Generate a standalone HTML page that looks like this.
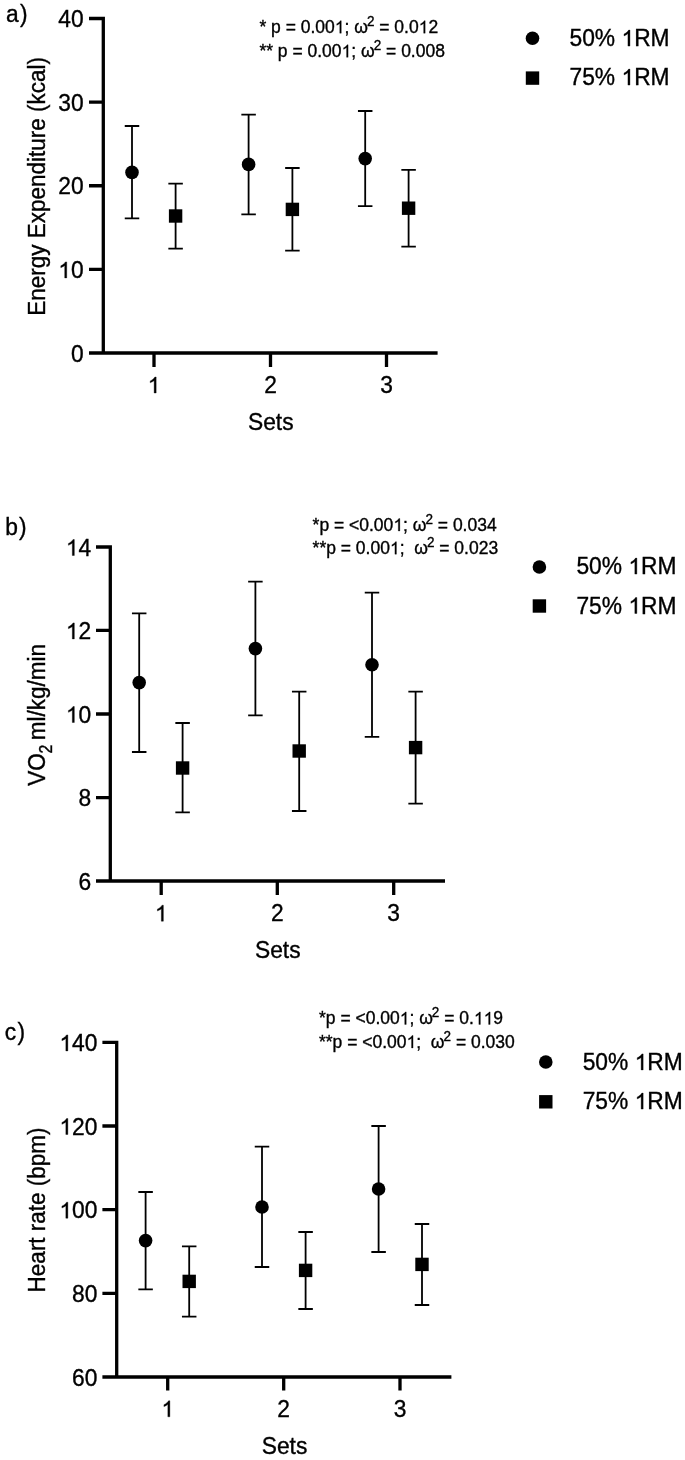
<!DOCTYPE html>
<html><head><meta charset="utf-8"><title>Figure</title>
<style>
html,body{margin:0;padding:0;background:#fff;}
body{width:685px;height:1460px;overflow:hidden;}
svg{display:block;font-family:"Liberation Sans", sans-serif;will-change:transform;}
text{fill:#000;stroke:#000;stroke-width:0.35px;}
.one{fill-opacity:0;stroke-opacity:0;}
</style></head>
<body>
<svg width="685" height="1460" viewBox="0 0 685 1460">
<rect width="685" height="1460" fill="#fff"/>
<g>
<path d="M103.3 16.85V353M89 18.5H103.3M89 102.1H103.3M89 185.75H103.3M89 269.4H103.3M89 353H103.3M89 353H437.6M154 353V367M270.5 353V367M386.5 353V367" stroke="#000" stroke-width="3.3" fill="none"/>
<text transform="translate(83.6,27) scale(1,1.02)" text-anchor="end" font-size="22.8">40</text>
<text transform="translate(83.6,110.6) scale(1,1.02)" text-anchor="end" font-size="22.8">30</text>
<text transform="translate(83.6,194.25) scale(1,1.02)" text-anchor="end" font-size="22.8">20</text>
<text transform="translate(83.6,277.9) scale(1,1.02)" text-anchor="end" font-size="22.8"><tspan class="one" id="o0">1</tspan>0</text>
<text transform="translate(83.6,361.5) scale(1,1.02)" text-anchor="end" font-size="22.8">0</text>
<text transform="translate(154,393) scale(1,1.02)" text-anchor="middle" font-size="22.8"><tspan class="one" id="o1">1</tspan></text>
<text transform="translate(270.5,393) scale(1,1.02)" text-anchor="middle" font-size="22.8">2</text>
<text transform="translate(386.5,393) scale(1,1.02)" text-anchor="middle" font-size="22.8">3</text>
<text transform="translate(270.8,429.8) scale(1,1.02)" text-anchor="middle" font-size="22.8">Sets</text>
<text transform="translate(6,22.3) scale(1,1.02)" font-size="22.8">a<tspan dx="1.2">)</tspan></text>
<text transform="translate(44.6,186.3) rotate(-90) scale(1,1.1)" text-anchor="middle" font-size="22.5">Energy Expenditure (kcal)</text>
<text transform="translate(259.4,33.2) scale(1,1.04)" font-size="17.5" xml:space="preserve">* p = 0.00<tspan class="one" id="o2">1</tspan>; ω<tspan font-size="13.5" dx="-1.0" dy="-7.0">2</tspan><tspan dy="7.0"> = 0.0<tspan class="one" id="o3">1</tspan>2</tspan></text>
<text transform="translate(259.4,57.3) scale(1,1.04)" font-size="17.5" xml:space="preserve">** p = 0.00<tspan class="one" id="o4">1</tspan>; ω<tspan font-size="13.5" dx="-1.0" dy="-7.0">2</tspan><tspan dy="7.0"> = 0.008</tspan></text>
<circle cx="532.5" cy="38.3" r="6.8"/>
<rect x="525.8" y="71.4" width="13.4" height="13.4"/>
<text transform="translate(569.5,46.1) scale(1,1.02)" font-size="22.8">50% <tspan class="one" id="o5">1</tspan>RM</text>
<text transform="translate(569.5,85.1) scale(1,1.02)" font-size="22.8">75% <tspan class="one" id="o6">1</tspan>RM</text>
<path d="M132 126V218.4M124.75 126H139.25M124.75 218.4H139.25M175.6 183.6V248.6M168.35 183.6H182.85M168.35 248.6H182.85M248.6 114.6V214.4M241.35 114.6H255.85M241.35 214.4H255.85M292.4 168V250.6M285.15 168H299.65M285.15 250.6H299.65M365.2 111V206.2M357.95 111H372.45M357.95 206.2H372.45M408.6 169.8V246.6M401.35 169.8H415.85M401.35 246.6H415.85" stroke="#000" stroke-width="1.8" fill="none"/>
<circle cx="132" cy="172.4" r="6.8"/>
<rect x="168.9" y="209.3" width="13.4" height="13.4"/>
<circle cx="248.6" cy="164.4" r="6.8"/>
<rect x="285.7" y="202.7" width="13.4" height="13.4"/>
<circle cx="365.2" cy="158.6" r="6.8"/>
<rect x="401.9" y="201.5" width="13.4" height="13.4"/>
</g>
<g>
<path d="M110.3 545.35V881M96 547H110.3M96 630.4H110.3M96 714H110.3M96 797.6H110.3M96 881H110.3M96 881H445M161.2 881V895M277.3 881V895M393.7 881V895" stroke="#000" stroke-width="3.3" fill="none"/>
<text transform="translate(91.2,555.5) scale(1,1.02)" text-anchor="end" font-size="22.8"><tspan class="one" id="o7">1</tspan>4</text>
<text transform="translate(91.2,638.9) scale(1,1.02)" text-anchor="end" font-size="22.8"><tspan class="one" id="o8">1</tspan>2</text>
<text transform="translate(91.2,722.5) scale(1,1.02)" text-anchor="end" font-size="22.8"><tspan class="one" id="o9">1</tspan>0</text>
<text transform="translate(91.2,806.1) scale(1,1.02)" text-anchor="end" font-size="22.8">8</text>
<text transform="translate(91.2,889.5) scale(1,1.02)" text-anchor="end" font-size="22.8">6</text>
<text transform="translate(161.2,921.2) scale(1,1.02)" text-anchor="middle" font-size="22.8"><tspan class="one" id="o10">1</tspan></text>
<text transform="translate(277.3,921.2) scale(1,1.02)" text-anchor="middle" font-size="22.8">2</text>
<text transform="translate(393.7,921.2) scale(1,1.02)" text-anchor="middle" font-size="22.8">3</text>
<text transform="translate(277.8,958.1) scale(1,1.02)" text-anchor="middle" font-size="22.8">Sets</text>
<text transform="translate(5.2,534.8) scale(1,1.02)" font-size="22.8">b<tspan dx="1.2">)</tspan></text>
<text transform="translate(44.6,714.9) rotate(-90) scale(1,1.1)" text-anchor="middle" font-size="22.5">VO<tspan font-size="16" dx="-0.3" dy="6.3">2</tspan><tspan dx="-1.8" dy="-6.3"> ml/kg/min</tspan></text>
<text transform="translate(312.6,531) scale(1,1.04)" font-size="17.5" xml:space="preserve">*p = <0.00<tspan class="one" id="o11">1</tspan>; ω<tspan font-size="13.5" dx="-1.0" dy="-7.0">2</tspan><tspan dy="7.0"> = 0.034</tspan></text>
<text transform="translate(312.6,554.2) scale(1,1.04)" font-size="17.5" xml:space="preserve">**p = 0.00<tspan class="one" id="o12">1</tspan>;  ω<tspan font-size="13.5" dx="-1.0" dy="-7.0">2</tspan><tspan dy="7.0"> = 0.023</tspan></text>
<circle cx="539.4" cy="567" r="6.8"/>
<rect x="532.7" y="599.3" width="13.4" height="13.4"/>
<text transform="translate(576.4,574.1) scale(1,1.02)" font-size="22.8">50% <tspan class="one" id="o13">1</tspan>RM</text>
<text transform="translate(576.4,613.5) scale(1,1.02)" font-size="22.8">75% <tspan class="one" id="o14">1</tspan>RM</text>
<path d="M139.2 613.4V752M131.95 613.4H146.45M131.95 752H146.45M182.6 723V812.4M175.35 723H189.85M175.35 812.4H189.85M255.4 581.6V715.4M248.15 581.6H262.65M248.15 715.4H262.65M299.2 691.6V811M291.95 691.6H306.45M291.95 811H306.45M372 592.6V736.8M364.75 592.6H379.25M364.75 736.8H379.25M415.6 691.6V803.6M408.35 691.6H422.85M408.35 803.6H422.85" stroke="#000" stroke-width="1.8" fill="none"/>
<circle cx="139.2" cy="682.6" r="6.8"/>
<rect x="175.9" y="761.3" width="13.4" height="13.4"/>
<circle cx="255.4" cy="648.6" r="6.8"/>
<rect x="292.5" y="744.3" width="13.4" height="13.4"/>
<circle cx="372" cy="664.8" r="6.8"/>
<rect x="408.9" y="740.9" width="13.4" height="13.4"/>
</g>
<g>
<path d="M116.7 1040.75V1377M102.4 1042.4H116.7M102.4 1126H116.7M102.4 1209.7H116.7M102.4 1293.3H116.7M102.4 1377H116.7M102.4 1377H451.4M167.7 1377V1390.4M283.7 1377V1390.4M400 1377V1390.4" stroke="#000" stroke-width="3.3" fill="none"/>
<text transform="translate(97.4,1050.9) scale(1,1.02)" text-anchor="end" font-size="22.8"><tspan class="one" id="o15">1</tspan>40</text>
<text transform="translate(97.4,1134.5) scale(1,1.02)" text-anchor="end" font-size="22.8"><tspan class="one" id="o16">1</tspan>20</text>
<text transform="translate(97.4,1218.2) scale(1,1.02)" text-anchor="end" font-size="22.8"><tspan class="one" id="o17">1</tspan>00</text>
<text transform="translate(97.4,1301.8) scale(1,1.02)" text-anchor="end" font-size="22.8">80</text>
<text transform="translate(97.4,1385.5) scale(1,1.02)" text-anchor="end" font-size="22.8">60</text>
<text transform="translate(167.7,1416.8) scale(1,1.02)" text-anchor="middle" font-size="22.8"><tspan class="one" id="o18">1</tspan></text>
<text transform="translate(283.7,1416.8) scale(1,1.02)" text-anchor="middle" font-size="22.8">2</text>
<text transform="translate(400,1416.8) scale(1,1.02)" text-anchor="middle" font-size="22.8">3</text>
<text transform="translate(284.5,1453.7) scale(1,1.02)" text-anchor="middle" font-size="22.8">Sets</text>
<text transform="translate(4.8,1040.1) scale(1,1.02)" font-size="22.8">c<tspan dx="1.2">)</tspan></text>
<text transform="translate(44.9,1209.9) rotate(-90) scale(1,1.1)" text-anchor="middle" font-size="22.5">Heart rate (bpm)</text>
<text transform="translate(319,1024.4) scale(1,1.04)" font-size="17.5" xml:space="preserve">*p = <0.00<tspan class="one" id="o19">1</tspan>; ω<tspan font-size="13.5" dx="-1.0" dy="-7.0">2</tspan><tspan dy="7.0"> = 0.<tspan class="one" id="o20">1</tspan><tspan class="one" id="o21">1</tspan>9</tspan></text>
<text transform="translate(319,1048) scale(1,1.04)" font-size="17.5" xml:space="preserve">**p = <0.00<tspan class="one" id="o22">1</tspan>;  ω<tspan font-size="13.5" dx="-1.0" dy="-7.0">2</tspan><tspan dy="7.0"> = 0.030</tspan></text>
<circle cx="545.8" cy="1062" r="6.8"/>
<rect x="539.1" y="1095.1" width="13.4" height="13.4"/>
<text transform="translate(582.7,1069.9) scale(1,1.02)" font-size="22.8">50% <tspan class="one" id="o23">1</tspan>RM</text>
<text transform="translate(582.7,1109.1) scale(1,1.02)" font-size="22.8">75% <tspan class="one" id="o24">1</tspan>RM</text>
<path d="M145.6 1192V1289.4M138.35 1192H152.85M138.35 1289.4H152.85M189.2 1246.4V1316.6M181.95 1246.4H196.45M181.95 1316.6H196.45M262 1146.6V1267M254.75 1146.6H269.25M254.75 1267H269.25M305.6 1232V1309M298.35 1232H312.85M298.35 1309H312.85M378.6 1126V1252M371.35 1126H385.85M371.35 1252H385.85M422 1224V1305M414.75 1224H429.25M414.75 1305H429.25" stroke="#000" stroke-width="1.8" fill="none"/>
<circle cx="145.6" cy="1240.6" r="6.8"/>
<rect x="182.5" y="1274.7" width="13.4" height="13.4"/>
<circle cx="262" cy="1207" r="6.8"/>
<rect x="298.9" y="1263.7" width="13.4" height="13.4"/>
<circle cx="378.6" cy="1189" r="6.8"/>
<rect x="415.3" y="1257.7" width="13.4" height="13.4"/>
</g>
<g fill="#000" stroke="#000" stroke-width="0.0154">
<path transform="translate(83.6,277.9) scale(1,1.02) translate(-25.37,0.00) scale(22.8)" d="M0.3726 0.0000L0.2847 0.0000L0.2847 -0.5382Q0.2529 -0.5091 0.2014 -0.4800Q0.1499 -0.4509 0.1128 -0.4378L0.1128 -0.5194Q0.1807 -0.5499 0.2314 -0.5933Q0.2822 -0.6367 0.3154 -0.6878L0.3726 -0.6878Z"/>
<path transform="translate(154,393) scale(1,1.02) translate(-6.34,0.00) scale(22.8)" d="M0.3726 0.0000L0.2847 0.0000L0.2847 -0.5382Q0.2529 -0.5091 0.2014 -0.4800Q0.1499 -0.4509 0.1128 -0.4378L0.1128 -0.5194Q0.1807 -0.5499 0.2314 -0.5933Q0.2822 -0.6367 0.3154 -0.6878L0.3726 -0.6878Z"/>
<path transform="translate(259.4,33.2) scale(1,1.04) translate(75.37,0.00) scale(17.5)" d="M0.3726 0.0000L0.2847 0.0000L0.2847 -0.5382Q0.2529 -0.5091 0.2014 -0.4800Q0.1499 -0.4509 0.1128 -0.4378L0.1128 -0.5194Q0.1807 -0.5499 0.2314 -0.5933Q0.2822 -0.6367 0.3154 -0.6878L0.3726 -0.6878Z"/>
<path transform="translate(259.4,33.2) scale(1,1.04) translate(159.26,0.00) scale(17.5)" d="M0.3726 0.0000L0.2847 0.0000L0.2847 -0.5382Q0.2529 -0.5091 0.2014 -0.4800Q0.1499 -0.4509 0.1128 -0.4378L0.1128 -0.5194Q0.1807 -0.5499 0.2314 -0.5933Q0.2822 -0.6367 0.3154 -0.6878L0.3726 -0.6878Z"/>
<path transform="translate(259.4,57.3) scale(1,1.04) translate(82.18,0.00) scale(17.5)" d="M0.3726 0.0000L0.2847 0.0000L0.2847 -0.5382Q0.2529 -0.5091 0.2014 -0.4800Q0.1499 -0.4509 0.1128 -0.4378L0.1128 -0.5194Q0.1807 -0.5499 0.2314 -0.5933Q0.2822 -0.6367 0.3154 -0.6878L0.3726 -0.6878Z"/>
<path transform="translate(569.5,46.1) scale(1,1.02) translate(51.95,0.00) scale(22.8)" d="M0.3726 0.0000L0.2847 0.0000L0.2847 -0.5382Q0.2529 -0.5091 0.2014 -0.4800Q0.1499 -0.4509 0.1128 -0.4378L0.1128 -0.5194Q0.1807 -0.5499 0.2314 -0.5933Q0.2822 -0.6367 0.3154 -0.6878L0.3726 -0.6878Z"/>
<path transform="translate(569.5,85.1) scale(1,1.02) translate(51.95,0.00) scale(22.8)" d="M0.3726 0.0000L0.2847 0.0000L0.2847 -0.5382Q0.2529 -0.5091 0.2014 -0.4800Q0.1499 -0.4509 0.1128 -0.4378L0.1128 -0.5194Q0.1807 -0.5499 0.2314 -0.5933Q0.2822 -0.6367 0.3154 -0.6878L0.3726 -0.6878Z"/>
<path transform="translate(91.2,555.5) scale(1,1.02) translate(-25.37,0.00) scale(22.8)" d="M0.3726 0.0000L0.2847 0.0000L0.2847 -0.5382Q0.2529 -0.5091 0.2014 -0.4800Q0.1499 -0.4509 0.1128 -0.4378L0.1128 -0.5194Q0.1807 -0.5499 0.2314 -0.5933Q0.2822 -0.6367 0.3154 -0.6878L0.3726 -0.6878Z"/>
<path transform="translate(91.2,638.9) scale(1,1.02) translate(-25.37,0.00) scale(22.8)" d="M0.3726 0.0000L0.2847 0.0000L0.2847 -0.5382Q0.2529 -0.5091 0.2014 -0.4800Q0.1499 -0.4509 0.1128 -0.4378L0.1128 -0.5194Q0.1807 -0.5499 0.2314 -0.5933Q0.2822 -0.6367 0.3154 -0.6878L0.3726 -0.6878Z"/>
<path transform="translate(91.2,722.5) scale(1,1.02) translate(-25.37,0.00) scale(22.8)" d="M0.3726 0.0000L0.2847 0.0000L0.2847 -0.5382Q0.2529 -0.5091 0.2014 -0.4800Q0.1499 -0.4509 0.1128 -0.4378L0.1128 -0.5194Q0.1807 -0.5499 0.2314 -0.5933Q0.2822 -0.6367 0.3154 -0.6878L0.3726 -0.6878Z"/>
<path transform="translate(161.2,921.2) scale(1,1.02) translate(-6.34,0.00) scale(22.8)" d="M0.3726 0.0000L0.2847 0.0000L0.2847 -0.5382Q0.2529 -0.5091 0.2014 -0.4800Q0.1499 -0.4509 0.1128 -0.4378L0.1128 -0.5194Q0.1807 -0.5499 0.2314 -0.5933Q0.2822 -0.6367 0.3154 -0.6878L0.3726 -0.6878Z"/>
<path transform="translate(312.6,531) scale(1,1.04) translate(80.73,0.00) scale(17.5)" d="M0.3726 0.0000L0.2847 0.0000L0.2847 -0.5382Q0.2529 -0.5091 0.2014 -0.4800Q0.1499 -0.4509 0.1128 -0.4378L0.1128 -0.5194Q0.1807 -0.5499 0.2314 -0.5933Q0.2822 -0.6367 0.3154 -0.6878L0.3726 -0.6878Z"/>
<path transform="translate(312.6,554.2) scale(1,1.04) translate(77.33,0.00) scale(17.5)" d="M0.3726 0.0000L0.2847 0.0000L0.2847 -0.5382Q0.2529 -0.5091 0.2014 -0.4800Q0.1499 -0.4509 0.1128 -0.4378L0.1128 -0.5194Q0.1807 -0.5499 0.2314 -0.5933Q0.2822 -0.6367 0.3154 -0.6878L0.3726 -0.6878Z"/>
<path transform="translate(576.4,574.1) scale(1,1.02) translate(51.95,0.00) scale(22.8)" d="M0.3726 0.0000L0.2847 0.0000L0.2847 -0.5382Q0.2529 -0.5091 0.2014 -0.4800Q0.1499 -0.4509 0.1128 -0.4378L0.1128 -0.5194Q0.1807 -0.5499 0.2314 -0.5933Q0.2822 -0.6367 0.3154 -0.6878L0.3726 -0.6878Z"/>
<path transform="translate(576.4,613.5) scale(1,1.02) translate(51.95,0.00) scale(22.8)" d="M0.3726 0.0000L0.2847 0.0000L0.2847 -0.5382Q0.2529 -0.5091 0.2014 -0.4800Q0.1499 -0.4509 0.1128 -0.4378L0.1128 -0.5194Q0.1807 -0.5499 0.2314 -0.5933Q0.2822 -0.6367 0.3154 -0.6878L0.3726 -0.6878Z"/>
<path transform="translate(97.4,1050.9) scale(1,1.02) translate(-38.04,0.00) scale(22.8)" d="M0.3726 0.0000L0.2847 0.0000L0.2847 -0.5382Q0.2529 -0.5091 0.2014 -0.4800Q0.1499 -0.4509 0.1128 -0.4378L0.1128 -0.5194Q0.1807 -0.5499 0.2314 -0.5933Q0.2822 -0.6367 0.3154 -0.6878L0.3726 -0.6878Z"/>
<path transform="translate(97.4,1134.5) scale(1,1.02) translate(-38.04,0.00) scale(22.8)" d="M0.3726 0.0000L0.2847 0.0000L0.2847 -0.5382Q0.2529 -0.5091 0.2014 -0.4800Q0.1499 -0.4509 0.1128 -0.4378L0.1128 -0.5194Q0.1807 -0.5499 0.2314 -0.5933Q0.2822 -0.6367 0.3154 -0.6878L0.3726 -0.6878Z"/>
<path transform="translate(97.4,1218.2) scale(1,1.02) translate(-38.04,0.00) scale(22.8)" d="M0.3726 0.0000L0.2847 0.0000L0.2847 -0.5382Q0.2529 -0.5091 0.2014 -0.4800Q0.1499 -0.4509 0.1128 -0.4378L0.1128 -0.5194Q0.1807 -0.5499 0.2314 -0.5933Q0.2822 -0.6367 0.3154 -0.6878L0.3726 -0.6878Z"/>
<path transform="translate(167.7,1416.8) scale(1,1.02) translate(-6.34,0.00) scale(22.8)" d="M0.3726 0.0000L0.2847 0.0000L0.2847 -0.5382Q0.2529 -0.5091 0.2014 -0.4800Q0.1499 -0.4509 0.1128 -0.4378L0.1128 -0.5194Q0.1807 -0.5499 0.2314 -0.5933Q0.2822 -0.6367 0.3154 -0.6878L0.3726 -0.6878Z"/>
<path transform="translate(319,1024.4) scale(1,1.04) translate(80.73,0.00) scale(17.5)" d="M0.3726 0.0000L0.2847 0.0000L0.2847 -0.5382Q0.2529 -0.5091 0.2014 -0.4800Q0.1499 -0.4509 0.1128 -0.4378L0.1128 -0.5194Q0.1807 -0.5499 0.2314 -0.5933Q0.2822 -0.6367 0.3154 -0.6878L0.3726 -0.6878Z"/>
<path transform="translate(319,1024.4) scale(1,1.04) translate(154.88,0.00) scale(17.5)" d="M0.3726 0.0000L0.2847 0.0000L0.2847 -0.5382Q0.2529 -0.5091 0.2014 -0.4800Q0.1499 -0.4509 0.1128 -0.4378L0.1128 -0.5194Q0.1807 -0.5499 0.2314 -0.5933Q0.2822 -0.6367 0.3154 -0.6878L0.3726 -0.6878Z"/>
<path transform="translate(319,1024.4) scale(1,1.04) translate(164.62,0.00) scale(17.5)" d="M0.3726 0.0000L0.2847 0.0000L0.2847 -0.5382Q0.2529 -0.5091 0.2014 -0.4800Q0.1499 -0.4509 0.1128 -0.4378L0.1128 -0.5194Q0.1807 -0.5499 0.2314 -0.5933Q0.2822 -0.6367 0.3154 -0.6878L0.3726 -0.6878Z"/>
<path transform="translate(319,1048) scale(1,1.04) translate(87.54,0.00) scale(17.5)" d="M0.3726 0.0000L0.2847 0.0000L0.2847 -0.5382Q0.2529 -0.5091 0.2014 -0.4800Q0.1499 -0.4509 0.1128 -0.4378L0.1128 -0.5194Q0.1807 -0.5499 0.2314 -0.5933Q0.2822 -0.6367 0.3154 -0.6878L0.3726 -0.6878Z"/>
<path transform="translate(582.7,1069.9) scale(1,1.02) translate(51.95,0.00) scale(22.8)" d="M0.3726 0.0000L0.2847 0.0000L0.2847 -0.5382Q0.2529 -0.5091 0.2014 -0.4800Q0.1499 -0.4509 0.1128 -0.4378L0.1128 -0.5194Q0.1807 -0.5499 0.2314 -0.5933Q0.2822 -0.6367 0.3154 -0.6878L0.3726 -0.6878Z"/>
<path transform="translate(582.7,1109.1) scale(1,1.02) translate(51.95,0.00) scale(22.8)" d="M0.3726 0.0000L0.2847 0.0000L0.2847 -0.5382Q0.2529 -0.5091 0.2014 -0.4800Q0.1499 -0.4509 0.1128 -0.4378L0.1128 -0.5194Q0.1807 -0.5499 0.2314 -0.5933Q0.2822 -0.6367 0.3154 -0.6878L0.3726 -0.6878Z"/>
</g>
</svg>
</body></html>
